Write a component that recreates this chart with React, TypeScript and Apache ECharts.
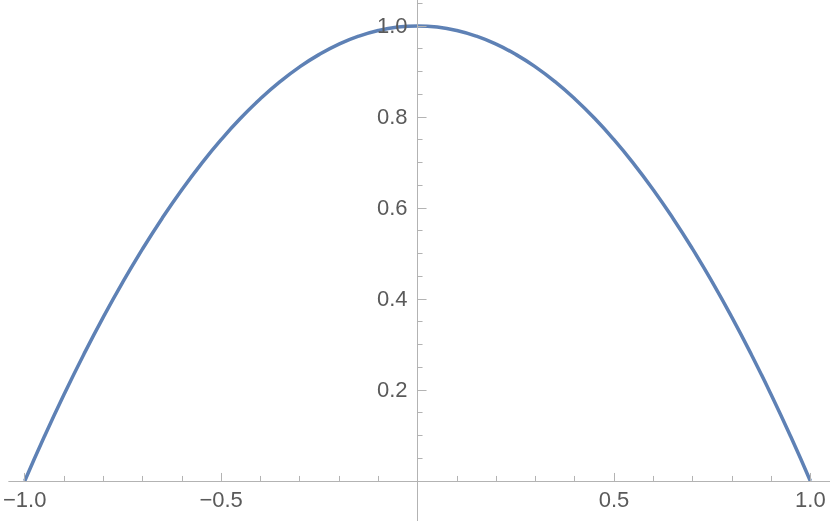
import React, { useEffect, useRef } from "react";
import * as echarts from "echarts";

const xValues = [-1, -0.95, -0.9, -0.85, -0.8, -0.75, -0.7, -0.65, -0.6, -0.55, -0.5, -0.45, -0.4, -0.35, -0.3, -0.25, -0.2, -0.15, -0.1, -0.05, 0, 0.05, 0.1, 0.15, 0.2, 0.25, 0.3, 0.35, 0.4, 0.45, 0.5, 0.55, 0.6, 0.65, 0.7, 0.75, 0.8, 0.85, 0.9, 0.95, 1];
const yValues = [0, 0.0975, 0.19, 0.2775, 0.36, 0.4375, 0.51, 0.5775, 0.64, 0.6975, 0.75, 0.7975, 0.84, 0.8775, 0.91, 0.9375, 0.96, 0.9775, 0.99, 0.9975, 1.0, 0.9975, 0.99, 0.9775, 0.96, 0.9375, 0.91, 0.8775, 0.84, 0.7975, 0.75, 0.6975, 0.64, 0.5775, 0.51, 0.4375, 0.36, 0.2775, 0.19, 0.0975, 0];

const xMajorTicks = [-1, -0.5, 0.5, 1];
const xMinorTicks = [-0.9, -0.8, -0.7, -0.6, -0.4, -0.3, -0.2, -0.1, 0.1, 0.2, 0.3, 0.4, 0.6, 0.7, 0.8, 0.9];
const yMajorTicks = [0.2, 0.4, 0.6, 0.8, 1.0];
const yMinorTicks = [0.05, 0.1, 0.15, 0.25, 0.3, 0.35, 0.45, 0.5, 0.55, 0.65, 0.7, 0.75, 0.85, 0.9, 0.95, 1.05];

const AXIS_COLOR = "#b3b3b3";
const LABEL_COLOR = "#5a5a5a";
const FONT = "Liberation Sans";

const fmtX = (v: number) => (v < 0 ? "\u2212" + Math.abs(v).toFixed(1) : v.toFixed(1));

export default function App() {
  const ref = useRef<HTMLDivElement>(null);
  useEffect(() => {
    if (!ref.current) return;
    const chart = echarts.init(ref.current, undefined, { renderer: "svg" });
    const xMin = -1.04, xMax = 1.05, yMin = -0.088, yMax = 1.057;
    const W = 830, H = 521, left = 9;
    // pixel offsets of the zero lines from the grid edges (for the label axes)
    const xAxisOffset = -((0 - yMin) / (yMax - yMin)) * H;
    const yAxisOffset = -((0 - xMin) / (xMax - xMin)) * (W - left);
    const lineOnZero = { onZero: true, onZeroAxisIndex: 0, lineStyle: { color: AXIS_COLOR, width: 1 } };
    chart.setOption({
      animation: false,
      grid: { left, right: 0, top: 0, bottom: 0, containLabel: false, outerBoundsMode: "none" },
      xAxis: [
        {
          type: "value", min: xMin, max: xMax, position: "bottom", z: 3,
          axisLine: lineOnZero,
          axisTick: { inside: true, length: 8, customValues: xMajorTicks, lineStyle: { color: AXIS_COLOR } },
          axisLabel: { show: false },
          splitLine: { show: false },
        },
        {
          type: "value", min: xMin, max: xMax, position: "bottom", z: 3,
          axisLine: lineOnZero,
          axisTick: { inside: true, length: 5, customValues: xMinorTicks, lineStyle: { color: AXIS_COLOR } },
          axisLabel: { show: false },
          splitLine: { show: false },
        },
        {
          type: "value", min: xMin, max: xMax, position: "bottom", offset: xAxisOffset, z: 3,
          axisLine: { show: false, onZero: false },
          axisTick: { show: false },
          axisLabel: { customValues: xMajorTicks, formatter: fmtX, fontSize: 22, color: LABEL_COLOR, fontFamily: FONT, margin: 8 },
          splitLine: { show: false },
        },
      ],
      yAxis: [
        {
          type: "value", min: yMin, max: yMax, position: "left", z: 3,
          axisLine: { show: true, ...lineOnZero },
          axisTick: { show: true, inside: true, length: 9, customValues: yMajorTicks, lineStyle: { color: AXIS_COLOR } },
          axisLabel: { show: false },
          splitLine: { show: false },
        },
        {
          type: "value", min: yMin, max: yMax, position: "left", z: 3,
          axisLine: { show: true, ...lineOnZero },
          axisTick: { show: true, inside: true, length: 5, customValues: yMinorTicks, lineStyle: { color: AXIS_COLOR } },
          axisLabel: { show: false },
          splitLine: { show: false },
        },
        {
          type: "value", min: yMin, max: yMax, position: "left", offset: yAxisOffset, z: 3,
          axisLine: { show: false, onZero: false },
          axisTick: { show: false },
          axisLabel: { customValues: yMajorTicks, formatter: (v: number) => v.toFixed(1), fontSize: 22, color: LABEL_COLOR, fontFamily: FONT, margin: 10 },
          splitLine: { show: false },
        },
      ],
      series: [
        {
          type: "line",
          xAxisIndex: 0, yAxisIndex: 0,
          data: xValues.map((x, i) => [x, yValues[i]]),
          smooth: true,
          showSymbol: false,
          lineStyle: { color: "#5e81b5", width: 3.5 },
          z: 1,
        },
      ],
    });
    return () => chart.dispose();
  }, []);
  return <div ref={ref} style={{ position: "fixed", left: 0, top: 0, width: 830, height: 521 }} />;
}
